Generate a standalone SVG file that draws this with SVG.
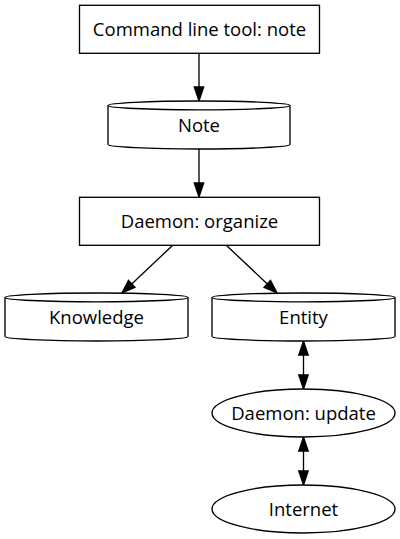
<svg xmlns="http://www.w3.org/2000/svg" width="400" height="539" viewBox="0 0 400 539">
<style>
.shape{fill:#ffffff;stroke:#000000;stroke-width:1.33}
.edge{fill:none;stroke:#000000;stroke-width:1.33}
.head{fill:#000000;stroke:#000000;stroke-width:1.33}
text{font-family:"Open Sans","Noto Sans",sans-serif;font-size:18.5px;fill:#000000;text-anchor:middle}
</style>
<rect width="400" height="539" fill="#ffffff"/>
<g id="edges">
<path class="edge" d="M199,53 L199,87"/>
<polygon class="head" points="194.3,87 199,101 203.7,87"/>
<path class="edge" d="M199,149 L199,183"/>
<polygon class="head" points="194.3,183 199,197 203.7,183"/>
<path class="edge" d="M173,245 L131.7,283.9"/>
<polygon class="head" points="134.9,287.3 122,293 128.5,280.5"/>
<path class="edge" d="M226,245 L267.3,283.9"/>
<polygon class="head" points="264.1,287.3 277,293 270.5,280.5"/>
<path class="edge" d="M303.5,355 L303.5,375"/>
<polygon class="head" points="298.8,355 303.5,341 308.2,355"/>
<polygon class="head" points="298.8,375 303.5,389 308.2,375"/>
<path class="edge" d="M303.5,451 L303.5,471"/>
<polygon class="head" points="298.8,451 303.5,437 308.2,451"/>
<polygon class="head" points="298.8,471 303.5,485 308.2,471"/>
</g>
<g id="cmd">
<rect class="shape" x="79.5" y="5.3" width="240" height="48"/>
<text x="199.5" y="35.6">Command line tool: note</text>
</g>
<g id="note">
<path class="shape" d="M290,105.4 C290,103 249.2,101 199,101 C148.8,101 108,103 108,105.4 L108,144.6 C108,147 148.8,149 199,149 C249.2,149 290,147 290,144.6 Z"/>
<path class="edge" d="M290,105.4 C290,107.8 249.2,109.8 199,109.8 C148.8,109.8 108,107.8 108,105.4"/>
<text x="199" y="131.6">Note</text>
</g>
<g id="organize">
<rect class="shape" x="79.5" y="197.3" width="240" height="48"/>
<text x="199.5" y="227.6">Daemon: organize</text>
</g>
<g id="knowledge">
<path class="shape" d="M188,297.4 C188,295 147,293 96.5,293 C46,293 5,295 5,297.4 L5,336.6 C5,339 46,341 96.5,341 C147,341 188,339 188,336.6 Z"/>
<path class="edge" d="M188,297.4 C188,299.8 147,301.8 96.5,301.8 C46,301.8 5,299.8 5,297.4"/>
<text x="96.5" y="323.6">Knowledge</text>
</g>
<g id="entity">
<path class="shape" d="M395,297.4 C395,295 354,293 303.5,293 C253,293 212,295 212,297.4 L212,336.6 C212,339 253,341 303.5,341 C354,341 395,339 395,336.6 Z"/>
<path class="edge" d="M395,297.4 C395,299.8 354,301.8 303.5,301.8 C253,301.8 212,299.8 212,297.4"/>
<text x="303.5" y="323.6">Entity</text>
</g>
<g id="update">
<ellipse class="shape" cx="303.5" cy="413" rx="91.5" ry="24"/>
<text x="303.5" y="419.6">Daemon: update</text>
</g>
<g id="internet">
<ellipse class="shape" cx="303.5" cy="509" rx="91.5" ry="24"/>
<text x="303.5" y="515.6">Internet</text>
</g>
</svg>
